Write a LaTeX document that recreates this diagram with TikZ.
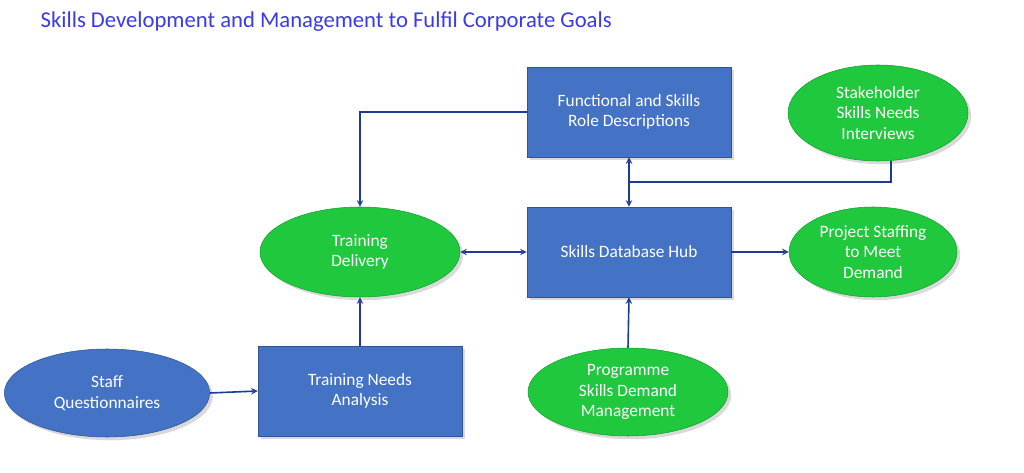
\documentclass[tikz,border=0pt]{standalone}
\usepackage{fontspec}
\setmainfont{Carlito}
\usetikzlibrary{shadows, shapes.geometric}
\definecolor{boxblue}{HTML}{4472C4}
\definecolor{boxedge}{HTML}{2F5597}
\definecolor{leafgreen}{HTML}{1FC83C}
\definecolor{leafedge}{HTML}{12A02C}
\definecolor{linknavy}{HTML}{1F3A93}
\definecolor{titleblue}{HTML}{3A3AE8}

\begin{document}
\begin{tikzpicture}[
            x=0.75pt, y=-0.75pt,
            font={\fontsize{13pt}{15.5pt}\selectfont},
            box/.style={rectangle, draw=boxedge, fill=boxblue, text=white, align=center,
                minimum width=153pt, minimum height=67.5pt, drop shadow={opacity=.3}},
            oval/.style={ellipse, draw=leafedge, fill=leafgreen, text=white, align=center,
                inner sep=0pt, drop shadow={opacity=.3}},
            blueoval/.style={oval, draw=boxedge, fill=boxblue},
            link/.style={->, >=stealth, draw=linknavy, line width=1.2pt}
        ]
        \useasboundingbox (0,0) rectangle (1024,473);
        \node[anchor=west, text=titleblue, font={\fontsize{17pt}{20pt}\selectfont}] (title) at (36,22)
            {Skills Development and Management to Fulfil Corporate Goals};

        % boxes
        \node[box] (roles) at (629,112) {Functional and Skills\\Role Descriptions};
        \node[box] (hub) at (629,252) {Skills Database Hub};
        \node[box] (tna) at (360,391) {Training Needs\\Analysis};

        % ellipses
        \node[oval, minimum width=150pt, minimum height=67.5pt] (delivery) at (360,252) {Training\\Delivery};
        \node[oval, minimum width=135pt, minimum height=72pt] (stake) at (878,113) {Stakeholder\\Skills Needs\\Interviews};
        \node[oval, minimum width=126pt, minimum height=67.5pt] (staffing) at (873,252) {Project Staffing\\to Meet\\Demand};
        \node[oval, minimum width=150pt, minimum height=66pt] (demand) at (628,392) {Programme\\Skills Demand\\Management};
        \node[blueoval, minimum width=154pt, minimum height=66pt] (quest) at (107,393) {Staff\\Questionnaires};

        % connectors
        \coordinate (join) at (628,182);
        \draw[link] (roles.west) -| (delivery.north);
        \draw[link, <->] (delivery.east) -- (hub.west);
        \draw[link] (hub.east) -- (staffing.west);
        \draw[link] (demand.north) -- (hub.south);
        \draw[link] (tna.north) -- (delivery.south);
        \draw[link] (quest.east) -- (tna.west);
        \draw[link, <->] (roles.south) -- (hub.north);
        \draw[link, -] (stake.south) ++(13,0) |- (join);
    \end{tikzpicture}
\end{document}
